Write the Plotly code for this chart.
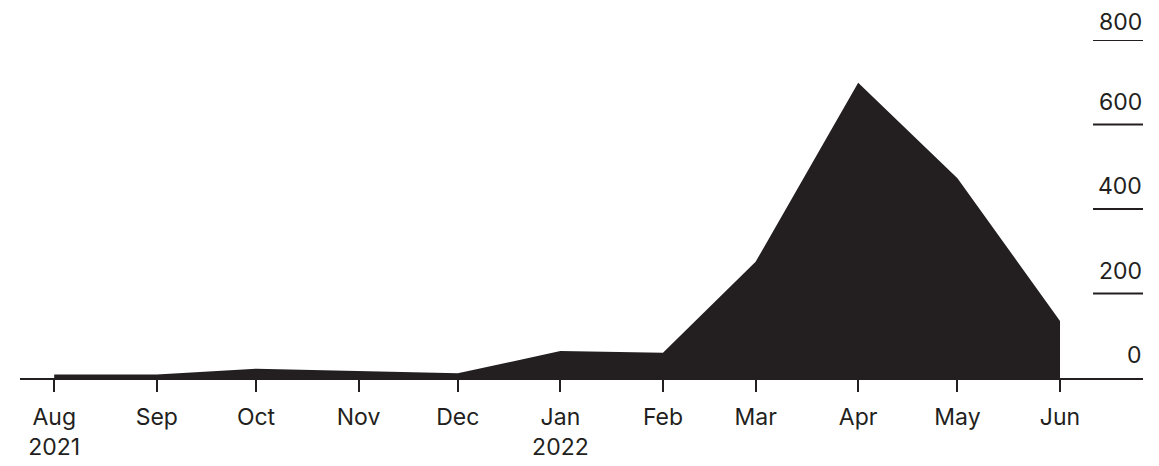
import plotly.graph_objects as go

months = ["2021-08-01", "2021-09-01", "2021-10-01", "2021-11-01", "2021-12-01",
          "2022-01-01", "2022-02-01", "2022-03-01", "2022-04-01", "2022-05-01", "2022-06-01"]
values = [8, 8, 22, 17, 11, 64, 60, 275, 699, 473, 135]
tick_labels = ["Aug<br>2021", "Sep", "Oct", "Nov", "Dec", "Jan<br>2022", "Feb", "Mar", "Apr", "May", "Jun"]
y_ticks = [0, 200, 400, 600, 800]

INK = "#231f20"
FONT = "Inter, Liberation Sans, Arial, sans-serif"

fig = go.Figure()
fig.add_trace(go.Scatter(
    x=months, y=values, mode="lines", fill="tozeroy",
    line=dict(color=INK, width=0), fillcolor=INK, hoverinfo="skip",
))

shapes = []
annotations = []
for v in y_ticks:
    if v == 0:
        continue
    shapes.append(dict(type="line", xref="paper", yref="y", x0=0.9555, x1=1.0, y0=v, y1=v,
                       line=dict(color=INK, width=2)))
for v in y_ticks:
    annotations.append(dict(xref="paper", yref="y", x=1.0, y=v, text=str(v), showarrow=False,
                            xanchor="right", yanchor="bottom", yshift=3 if v == 800 else 8,
                            borderpad=0,
                            font=dict(family=FONT, size=23, color=INK)))

# page body has an 8px default margin, so the figure is shrunk by 8px
fig.update_layout(
    width=1151, height=458,
    margin=dict(l=12, r=16, t=32, b=88, autoexpand=False),
    paper_bgcolor="white", plot_bgcolor="white",
    showlegend=False,
    shapes=shapes, annotations=annotations,
    xaxis=dict(
        type="date", range=["2021-07-21 16:00", "2022-06-26 02:00"],
        tickvals=months, ticktext=tick_labels,
        ticks="outside", ticklen=12, tickwidth=2, tickcolor=INK,
        showline=True, linecolor=INK, linewidth=2,
        showgrid=False, zeroline=False, automargin=False,
        tickfont=dict(family=FONT, size=23, color=INK),
        ticklabelstandoff=5,
    ),
    yaxis=dict(range=[0, 800], showgrid=False, zeroline=False, showticklabels=False,
               showline=False, fixedrange=True, automargin=False),
)

fig.write_html("out.html")
